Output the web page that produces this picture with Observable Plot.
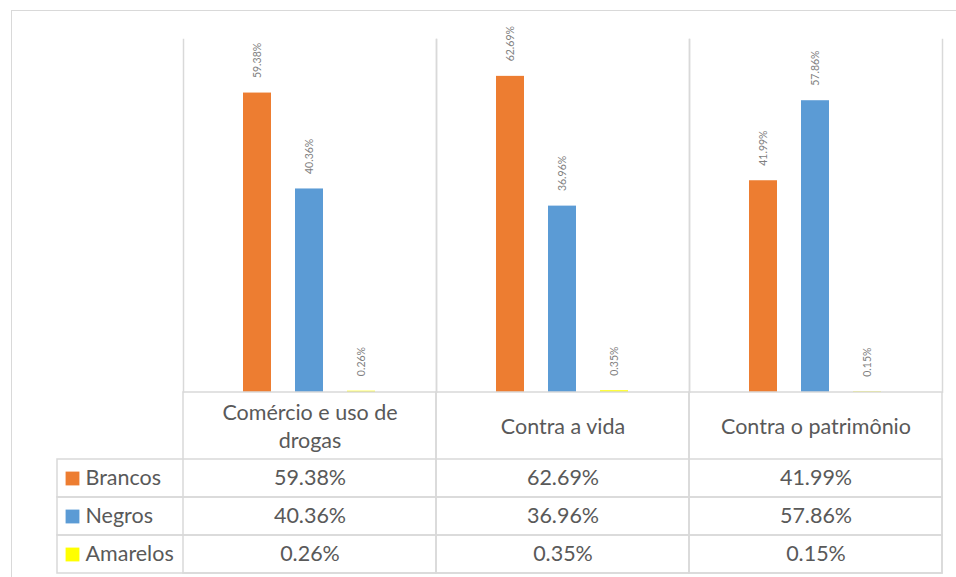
<!DOCTYPE html>
<html>
<head>
<meta charset="utf-8">
<script src="https://cdn.jsdelivr.net/npm/d3@7"></script>
<script src="https://cdn.jsdelivr.net/npm/@observablehq/plot@0.6"></script>
<style>
  html, body { margin: 0; padding: 0; background: #fff; }
  body { width: 956px; height: 577px; overflow: hidden; position: relative; font-family: Lato, sans-serif; }
  #border { position: absolute; left: 11px; top: 10px; width: 980px; height: 600px; border: 1.5px solid #d9d9d9; box-sizing: border-box; }
  #bars { position: absolute; left: 0; top: 0; }
  #table { position: absolute; left: 0; top: 391px; }
</style>
</head>
<body>
<div id="border"></div>
<div id="bars"></div>
<div id="table"></div>
<script>
const categories = ["Comércio e uso de drogas", "Contra a vida", "Contra o patrimônio"];
const series = ["Brancos", "Negros", "Amarelos"];
const brancos = [59.38, 62.69, 41.99];
const negros = [40.36, 36.96, 57.86];
const amarelos = [0.26, 0.35, 0.15];
const colors = ["#ED7D31", "#5B9BD5", "#FFFF00"];

const seriesValues = [brancos, negros, amarelos];
const data = categories.flatMap((c, i) =>
  series.map((s, j) => ({category: c, series: s, value: seriesValues[j][i]}))
);
const fmt = d => d.value.toFixed(2) + "%";
const grid = "#d9d9d9";
const textColor = "#595959";

const bars = Plot.plot({
  width: 956,
  height: 393,
  marginTop: 39,
  marginBottom: 1,
  marginLeft: 183,
  marginRight: 14,
  style: {background: "transparent", fontFamily: "Lato, sans-serif"},
  fx: {domain: categories, padding: 0, axis: null},
  x: {domain: series, paddingInner: 0.4615, paddingOuter: 1.163, axis: null},
  y: {domain: [0, 70], axis: null},
  color: {domain: series, range: colors},
  marks: [
    Plot.frame({anchor: "left", stroke: grid, strokeWidth: 1.5}),
    Plot.frame({anchor: "right", stroke: grid, strokeWidth: 1.5}),
    Plot.barY(data, {fx: "category", x: "series", y: "value", fill: "series"}),
    Plot.text(data, {
      fx: "category", x: "series", y: "value", text: fmt,
      rotate: -90, textAnchor: "start", dy: -15,
      fontSize: 10.5, fill: "#7f7f7f"
    })
  ]
});
document.getElementById("bars").appendChild(bars);

const table = Plot.plot({
  width: 956,
  height: 183,
  marginTop: 67,
  marginBottom: 1,
  marginLeft: 183,
  marginRight: 14,
  style: {background: "transparent", fontFamily: "Lato, sans-serif", color: textColor},
  x: {domain: categories, padding: 0, axis: null},
  y: {domain: series, padding: 0, axis: null},
  color: {domain: series, range: colors},
  marks: [
    Plot.cell(series, {y: d => d, insetLeft: -126, fill: "none", stroke: grid, strokeWidth: 1.5}),
    Plot.cell(categories, {x: d => d, insetTop: -66, fill: "none", stroke: grid, strokeWidth: 1.5}),
    Plot.text(data, {x: "category", y: "series", text: fmt, fontSize: 21.5, fill: textColor}),
    Plot.text(series, {y: d => d, text: d => d, frameAnchor: "left", dx: -98, textAnchor: "start", fontSize: 21.5, fill: textColor}),
    Plot.dot(series, {y: d => d, frameAnchor: "left", dx: -111, symbol: "square", r: 7.8, fill: d => d, stroke: null}),
    Plot.axisX({anchor: "top", tickSize: 0, tickPadding: 33, lineAnchor: "middle", lineWidth: 10, lineHeight: 1.3, fontSize: 21.5, fill: textColor, label: null})
  ]
});
document.getElementById("table").appendChild(table);
</script>
</body>
</html>
